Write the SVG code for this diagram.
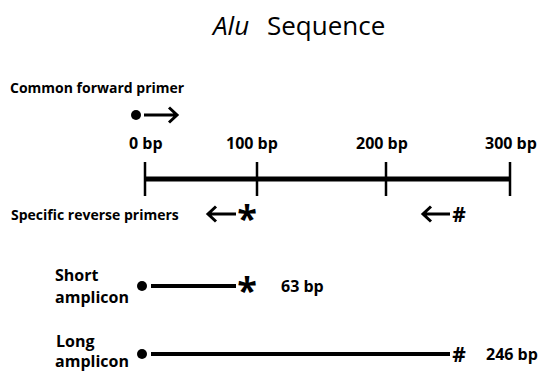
<svg xmlns="http://www.w3.org/2000/svg" width="542" height="372" viewBox="0 0 542 372">
<style>
text{font-family:"Open Sans","Liberation Sans",sans-serif;fill:#000}
.t{font-size:26px}
.b{font-weight:bold;font-size:14px}
.l{font-weight:bold;font-size:16px}
.sym{font-weight:bold;font-size:36px}
.hash{font-weight:bold;font-size:21px}
.ln{stroke:#000;fill:none;stroke-linecap:butt}
.ax{stroke-width:5}
.tk{stroke-width:2.5}
.ar{stroke-width:3}
.am{stroke-width:4}
</style>
<rect width="542" height="372" fill="#fff"/>
<g id="title"><text class="t" x="213" y="35"><tspan font-style="italic">Alu</tspan><tspan x="267">Sequence</tspan></text></g>
<g id="forward-primer">
<text class="b" x="10" y="93">Common forward primer</text>
<circle cx="136" cy="115" r="5"/>
<path class="ln ar" d="M144 115H177M169 107.5L177 115L169 122.5"/>
</g>
<g id="axis">
<path class="ln ax" d="M145 179H510"/>
<path class="ln tk" d="M145 162V196M257 162V196M386 162V196M510 162V196"/>
<text class="l" x="129" y="149">0 bp</text>
<text class="l" x="226" y="149">100 bp</text>
<text class="l" x="356" y="149">200 bp</text>
<text class="l" x="485" y="149">300 bp</text>
</g>
<g id="reverse-primers">
<text class="b" x="11" y="220">Specific reverse primers</text>
<path class="ln ar" d="M208 214H236M216 206.5L208 214L216 221.5"/>
<text class="sym" x="247" y="231" text-anchor="middle">*</text>
<path class="ln ar" d="M423 214H450M431 206.5L423 214L431 221.5"/>
<text class="hash" x="459" y="221.5" text-anchor="middle">#</text>
</g>
<g id="short-amplicon">
<text class="l" x="55" y="281">Short</text>
<text class="l" x="55" y="303">amplicon</text>
<circle cx="142" cy="286" r="5"/>
<path class="ln am" d="M151 286H236"/>
<text class="sym" x="247" y="303" text-anchor="middle">*</text>
<text class="l" x="281" y="292">63 bp</text>
</g>
<g id="long-amplicon">
<text class="l" x="56" y="347">Long</text>
<text class="l" x="55" y="367">amplicon</text>
<circle cx="142" cy="354" r="5"/>
<path class="ln am" d="M151 354H450"/>
<text class="hash" x="459" y="361.5" text-anchor="middle">#</text>
<text class="l" x="486" y="360">246 bp</text>
</g>
</svg>
